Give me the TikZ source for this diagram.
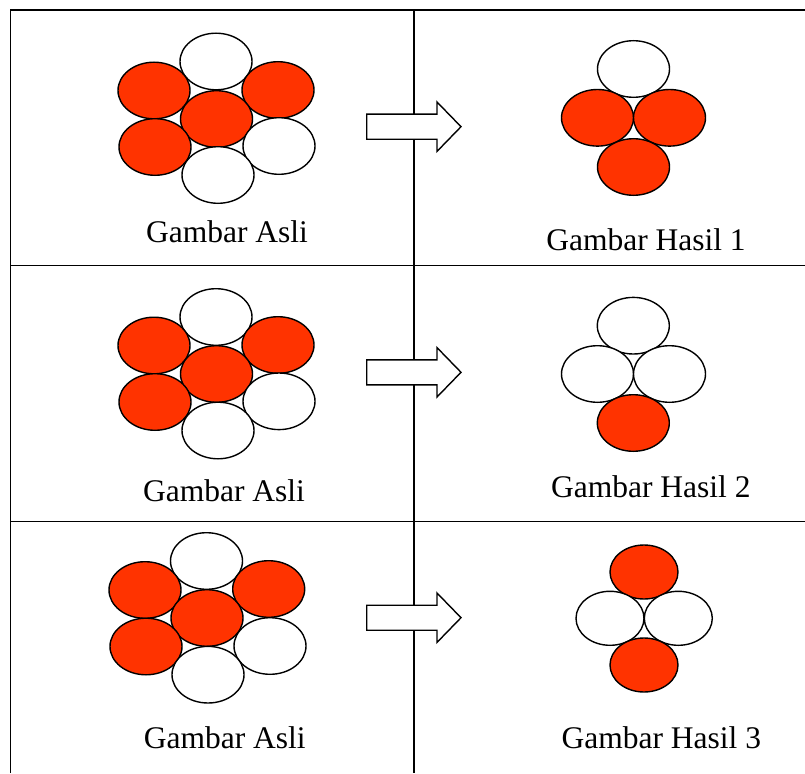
\documentclass[tikz,border=0pt]{standalone}
\usepackage{fontspec}
\setmainfont{Liberation Serif}
\definecolor{redfill}{RGB}{255,51,0}
\begin{document}
\begin{tikzpicture}[x=1pt,y=-1pt,
  grid/.style={line width=1.8pt,black},
  red/.style={fill=redfill,draw=black,line width=1.4pt},
  wht/.style={fill=white,draw=black,line width=1.4pt},
  arr/.style={fill=white,draw=black,line width=1.4pt,line join=miter},
  lbl/.style={anchor=base,inner sep=0pt,font=\fontsize{31.5}{36}\selectfont}]
\useasboundingbox (0,0) rectangle (805,773);
% table lines
\draw[grid] (10.5,773) -- (10.5,10) -- (805,10);
\draw[grid] (414,10) -- (414,773);
\draw[grid] (10.5,265.5) -- (805,265.5);
\draw[grid] (10.5,521.5) -- (805,521.5);
% arrows
\foreach \c in {126.7,372.3,617.7}{
  \draw[arr] (366.7,\c-12.5) -- (437,\c-12.5) -- (437,\c-24.7) -- (461,\c)
     -- (437,\c+24.7) -- (437,\c+12.5) -- (366.7,\c+12.5) -- cycle;
}
% row 1 original
\draw[wht] (216,61.5) ellipse (36 and 28.3);
\draw[red] (154,90.5) ellipse (36 and 28.3);
\draw[red] (278,90) ellipse (36 and 28.3);
\draw[red] (216.5,119) ellipse (36 and 28.3);
\draw[red] (155,147) ellipse (36 and 28.3);
\draw[wht] (279,146) ellipse (36 and 28.3);
\draw[wht] (218,175) ellipse (36 and 28.3);
\node[lbl] (t1) at (227,242) {Gambar Asli};
% row 1 result
\draw[wht] (633.5,69) ellipse (36 and 28.3);
\draw[red] (597.5,117.8) ellipse (36 and 28.3);
\draw[red] (669.5,117.8) ellipse (36 and 28.3);
\draw[red] (633.5,167) ellipse (36 and 28.3);
\node[lbl] (r1) at (646,250) {Gambar Hasil 1};
% row 2 original
\draw[wht] (216,317) ellipse (36 and 28.3);
\draw[red] (154,345.5) ellipse (36 and 28.3);
\draw[red] (278,345) ellipse (36 and 28.3);
\draw[red] (216.5,374) ellipse (36 and 28.3);
\draw[red] (155,402) ellipse (36 and 28.3);
\draw[wht] (279,401.3) ellipse (36 and 28.3);
\draw[wht] (218,430.5) ellipse (36 and 28.3);
\node[lbl] (t2) at (224,501) {Gambar Asli};
% row 2 result
\draw[wht] (633.3,325.7) ellipse (36 and 28.3);
\draw[wht] (597.5,374) ellipse (36 and 28.3);
\draw[wht] (669.5,374) ellipse (36 and 28.3);
\draw[red] (633.3,423) ellipse (36 and 28.3);
\node[lbl] (r2) at (650.8,497.7) {Gambar Hasil 2};
% row 3 original
\draw[wht] (206.5,561) ellipse (36 and 28.3);
\draw[red] (145,590) ellipse (36 and 28.3);
\draw[red] (268.7,589) ellipse (36 and 28.3);
\draw[red] (207,618) ellipse (36 and 28.3);
\draw[red] (146,646.5) ellipse (36 and 28.3);
\draw[wht] (270,646) ellipse (36 and 28.3);
\draw[wht] (208,674.7) ellipse (36 and 28.3);
\node[lbl] (t3) at (224.8,748) {Gambar Asli};
% row 3 result
\draw[red] (644,572) ellipse (34 and 27);
\draw[wht] (610,618.3) ellipse (34 and 27);
\draw[wht] (678.3,618.3) ellipse (34 and 27);
\draw[red] (644,665) ellipse (34 and 27);
\node[lbl] (r3) at (661.3,748.3) {Gambar Hasil 3};
\end{tikzpicture}
\end{document}
